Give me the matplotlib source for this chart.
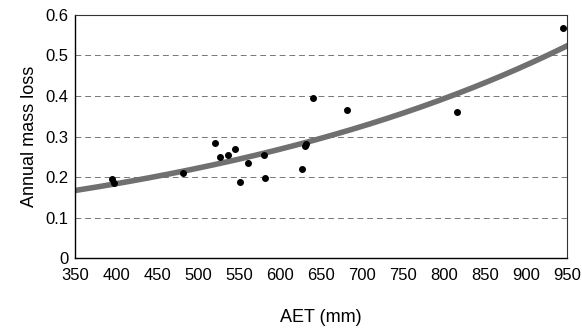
import numpy as np
import matplotlib.pyplot as plt

plt.rcParams['font.family'] = ['Liberation Sans', 'DejaVu Sans']

# measured points: AET (mm) vs annual mass loss
aet = [395, 397, 481, 520, 526, 536, 545, 551, 561, 580, 581, 626, 630, 632, 640, 681, 816, 945]
mass_loss = [0.195, 0.186, 0.209, 0.284, 0.249, 0.254, 0.269, 0.189, 0.234, 0.254, 0.198,
             0.219, 0.276, 0.282, 0.394, 0.366, 0.361, 0.568]

# exponential trend line (value at 350 and 950 mm)
trend_x = [350, 950]
trend_y = [0.167, 0.524]

x_ticks = list(range(350, 951, 50))
y_ticks = [0, 0.1, 0.2, 0.3, 0.4, 0.5, 0.6]

fig, ax = plt.subplots(figsize=(5.82, 3.29), dpi=100)
fig.subplots_adjust(left=0.129, right=0.975, top=0.955, bottom=0.215)

for y in y_ticks[1:-1]:
    ax.axhline(y, color='#777777', linestyle=(0, (6, 4)), linewidth=0.7, zorder=1)

b = np.log(trend_y[1] / trend_y[0]) / (trend_x[1] - trend_x[0])
xs = np.linspace(trend_x[0], trend_x[1], 200)
ax.plot(xs, trend_y[0] * np.exp(b * (xs - trend_x[0])), color='#707070', linewidth=4, zorder=2)

ax.plot(aet, mass_loss, 'o', color='black', markersize=4, zorder=3)

ax.set_xlim(350, 950)
ax.set_ylim(0, 0.6)
ax.set_xticks(x_ticks)
ax.set_yticks(y_ticks)
ax.set_yticklabels(['0', '0.1', '0.2', '0.3', '0.4', '0.5', '0.6'])
ax.tick_params(length=0, labelsize=12)
ax.tick_params(axis='x', pad=7)
ax.tick_params(axis='y', pad=5)
ax.set_xlabel('AET (mm)', fontsize=13, labelpad=19)
ax.set_ylabel('Annual mass loss', fontsize=13, labelpad=5)

for side in ['left', 'bottom']:
    ax.spines[side].set_linewidth(1.0)
for side in ['top', 'right']:
    ax.spines[side].set_linewidth(0.8)
    ax.spines[side].set_color('#333333')

plt.savefig('out.png', dpi=100)
